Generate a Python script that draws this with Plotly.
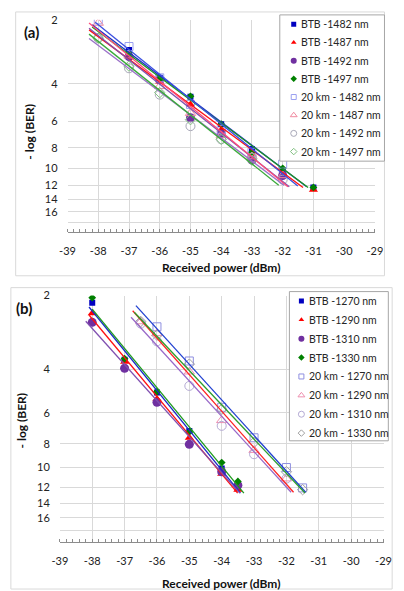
import numpy as np
import plotly.graph_objects as go

W, H = 404, 591

# ---------------- Panel (a) data ----------------
a_names = ["BTB -1482 nm", "BTB -1487 nm", "BTB -1492 nm", "BTB -1497 nm",
           "20 km - 1482 nm", "20 km - 1487 nm", "20 km - 1492 nm", "20 km - 1497 nm"]
a_x = [
    [-37, -36, -35, -34, -33, -32, -31],
    [-37, -36, -35, -34, -33, -32, -31],
    [-37, -36, -35, -34, -33, -32],
    [-37, -36, -35, -34, -33, -32, -31],
    [-38, -37, -36, -35, -34, -33, -32],
    [-38, -37, -36, -35, -34, -33, -32],
    [-38, -37, -36, -35, -34, -33, -32],
    [-38, -37, -36, -35, -34, -33],
]
a_y = [
    [2.77, 3.75, 4.60, 6.20, 8.10, 10.2, 12.3],   # BTB -1482
    [2.98, 3.90, 5.00, 6.60, 8.60, 10.6, 12.6],   # BTB -1487
    [2.98, 3.83, 5.78, 6.90, 9.15, 10.8],         # BTB -1492
    [2.85, 3.80, 4.58, 6.20, 8.40, 10.0, 12.3],   # BTB -1497
    [2.00, 2.67, 3.75, 5.00, 6.55, 8.40, 9.55],   # 20 km - 1482
    [2.07, 2.95, 4.11, 5.50, 7.00, 8.80, 10.8],   # 20 km - 1487
    [2.44, 3.38, 4.50, 6.33, 7.30, 8.90, 11.3],   # 20 km - 1492
    [2.44, 3.30, 4.40, 5.90, 7.30, 9.15],         # 20 km - 1497
]
a_line_start = [-38.2, -38.3, -38.3, -38.2, -38.1, -38.3, -38.3, -38.3]
a_line_end_value = [12.2, 12.3, 12.2, 12.3, 12.1, 12.2, 12.0, 12.0]

# ---------------- Panel (b) data ----------------
b_names = ["BTB -1270 nm", "BTB -1290 nm", "BTB -1310 nm", "BTB -1330 nm",
           "20 km - 1270 nm", "20 km - 1290 nm", "20 km - 1310 nm", "20 km - 1330 nm"]
b_x = [
    [-38, -37, -36, -35, -34, -33.5],
    [-38, -37, -36, -35, -34, -33.5],
    [-38, -37, -36, -35, -34, -33.5],
    [-38, -37, -36, -35, -34, -33.5],
    [-36, -35, -34, -33, -32, -31.5],
    [-36.5, -36, -35, -34, -33, -32],
    [-36.5, -36, -35, -34, -33, -32],
    [-36.5, -36, -35, -34, -33, -32, -31.5],
]
b_y = [
    [2.14, 3.65, 4.95, 7.10, 10.1, 12.1],         # BTB -1270
    [2.36, 3.72, 5.27, 7.57, 10.6, 12.3],         # BTB -1290
    [2.57, 3.95, 5.43, 8.05, 10.4, 11.8],         # BTB -1310
    [2.04, 3.61, 4.92, 7.17, 9.55, 11.4],         # BTB -1330
    [2.68, 3.69, 5.69, 7.57, 10.0, 12.1],         # 20 km - 1270
    [2.55, 2.85, 4.08, 6.43, 8.50, 11.1],         # 20 km - 1290
    [2.60, 3.07, 4.66, 6.77, 8.83, 11.1],         # 20 km - 1310
    [2.55, 2.90, 3.80, 5.80, 7.90, 10.4, 12.3],   # 20 km - 1330
]
b_line_start = [-38.1, -38.1, -38.2, -38.0, -36.65, -36.75, -36.8, -36.7]
b_line_end_value = [12.7, 12.7, 12.7, 12.7, 12.6, 12.6, 12.6, 12.7]

ytick_vals = [2, 4, 6, 8, 10, 12, 14, 16, 18]
ytick_text = ["2", "4", "6", "8", "10", "12", "14", "16", ""]
xtick_vals = list(range(-39, -28))
xtick_text = [str(v) for v in xtick_vals]

# styles: (symbol, size, fill, marker line color, marker line width, trend line color)
styles_a = [
    ("square", 6, "#0000c0", "#0000c0", 0, "#1a2cc8"),
    ("triangle-up", 8, "#ff0000", "#ff0000", 0, "#ff1010"),
    ("circle", 9, "#7030a0", "#7030a0", 0, "#8050b0"),
    ("diamond", 6, "#008000", "#008000", 0, "#1e9a1e"),
    ("square-open", 8, "#9aa0f0", "#9aa0f0", 1, "#3b4fe0"),
    ("triangle-up-open", 9, "#f08aa0", "#f08aa0", 1, "#ff4d7a"),
    ("circle-open", 9, "#a8a8b8", "#a8a8b8", 1, "#9a70c8"),
    ("diamond-open", 8, "#80c080", "#80c080", 1, "#3aaa3a"),
]
styles_b = list(styles_a)
styles_b[4] = ("square-open", 8, "#8f8fe0", "#8f8fe0", 1, "#2040d0")
styles_b[5] = ("triangle-up-open", 9, "#ee90b0", "#ee90b0", 1, "#ff2020")
styles_b[6] = ("circle-open", 9, "#b4aad4", "#b4aad4", 1, "#9868c8")
styles_b[7] = ("diamond-open", 8, "#a0a0a0", "#a0a0a0", 1, "#2e9e2e")

FONT = "Lato"
fig = go.Figure()


def add_panel(xs_list, ys_list, names, starts, end_vals, sty, xa, ya):
    for xs, ys, nm, st in zip(xs_list, ys_list, names, sty):
        sym, size, fill, lc, lw, _ = st
        fig.add_trace(go.Scatter(
            x=xs, y=ys, mode="markers", name=nm, xaxis=xa, yaxis=ya, showlegend=False,
            marker=dict(symbol=sym, size=size, color=fill, line=dict(color=lc, width=lw)),
        ))
    # trend lines: straight fit of log10(value) against received power
    for xs, ys, s0, ev, st in zip(xs_list, ys_list, starts, end_vals, sty):
        k, b = np.polyfit(np.array(xs, float), np.log10(np.array(ys, float)), 1)
        s1 = (np.log10(ev) - b) / k
        lx = np.array([s0, s1])
        ly = 10 ** (k * lx + b)
        fig.add_trace(go.Scatter(
            x=lx, y=ly, mode="lines", showlegend=False, xaxis=xa, yaxis=ya,
            line=dict(color=st[5], width=1.3), hoverinfo="skip",
        ))


add_panel(a_x, a_y, a_names, a_line_start, a_line_end_value, styles_a, "x", "y")
add_panel(b_x, b_y, b_names, b_line_start, b_line_end_value, styles_b, "x2", "y2")


def px_x(p):
    return p / W


def px_y(p):
    return 1 - p / H


# ---------- manual legends (their axes are measured in page pixels) ----------
PAD = 3


def add_legend(names, sty, box, mark_x, text_x, y0, dy, xa, ya, fs):
    x0p, x1p, y0p, y1p = box
    fig.add_trace(go.Scatter(
        x=[x0p, x1p, x1p, x0p, x0p], y=[y0p, y0p, y1p, y1p, y0p], mode="lines",
        fill="toself", fillcolor="white", line=dict(color="#a6a6a6", width=1),
        xaxis=xa, yaxis=ya, showlegend=False, hoverinfo="skip",
    ))
    ys = [y0 + i * dy for i in range(len(names))]
    for nm, st, yy in zip(names, sty, ys):
        sym, size, fill, lc, lw, _ = st
        fig.add_trace(go.Scatter(
            x=[mark_x], y=[yy], mode="markers", xaxis=xa, yaxis=ya, showlegend=False,
            hoverinfo="skip",
            marker=dict(symbol=sym, size=max(size - 3, 5), color=fill, line=dict(color=lc, width=lw)),
        ))
        fig.add_annotation(text=nm, x=text_x, y=yy, xref=xa, yref=ya, showarrow=False,
                           xanchor="left", yanchor="middle",
                           font=dict(family=FONT, size=fs, color="#262626"))


legA = (283, 392, 8, 156)
legB = (293, 396, 288, 439)

xaxis_common = dict(
    range=[-39, -29], tickvals=xtick_vals, ticktext=xtick_text, showgrid=True,
    gridcolor="#d9d9d9", gridwidth=1, zeroline=False, showline=True, linecolor="#8c8c8c",
    linewidth=1, ticks="", tickfont=dict(family=FONT, size=11, color="#222"),
    minor=dict(dtick=0.2, ticks="inside", ticklen=3, tickcolor="#8c8c8c", showgrid=False),
    ticklabelstandoff=9, fixedrange=True,
)
yaxis_common = dict(
    type="log", range=[np.log10(20), np.log10(2)], tickvals=ytick_vals, ticktext=ytick_text,
    showgrid=True, gridcolor="#d9d9d9", gridwidth=1, zeroline=False, showline=False,
    ticks="", tickfont=dict(family=FONT, size=11, color="#222"), ticklabelstandoff=9,
    fixedrange=True,
)
hidden = dict(visible=False, showgrid=False, zeroline=False, fixedrange=True)


def leg_axes(box):
    x0p, x1p, y0p, y1p = box
    xa = dict(domain=[px_x(x0p - PAD), px_x(x1p + PAD)], range=[x0p - PAD, x1p + PAD], **hidden)
    ya = dict(domain=[px_y(y1p + PAD), px_y(y0p - PAD)], range=[y1p + PAD, y0p - PAD], **hidden)
    return xa, ya


lax3, lay3 = leg_axes(legA)
lax4, lay4 = leg_axes(legB)

fig.update_layout(
    width=W, height=H, margin=dict(l=0, r=0, t=0, b=0),
    paper_bgcolor="white", plot_bgcolor="rgba(0,0,0,0)", showlegend=False,
    xaxis=dict(domain=[px_x(62), px_x(382)], anchor="y", **xaxis_common),
    yaxis=dict(domain=[px_y(228), px_y(13)], anchor="x", **yaxis_common),
    xaxis2=dict(domain=[px_x(54), px_x(391)], anchor="y2", **xaxis_common),
    yaxis2=dict(domain=[px_y(541), px_y(292)], anchor="x2", **yaxis_common),
    xaxis3=dict(anchor="y3", **lax3), yaxis3=dict(anchor="x3", **lay3),
    xaxis4=dict(anchor="y4", **lax4), yaxis4=dict(anchor="x4", **lay4),
)

# outer chart-area borders
fig.add_shape(type="rect", xref="paper", yref="paper", x0=px_x(8), x1=px_x(392), y0=px_y(272), y1=px_y(5),
              line=dict(color="#d9d9d9", width=1), layer="below")
fig.add_shape(type="rect", xref="paper", yref="paper", x0=px_x(3), x1=px_x(400), y0=px_y(589), y1=px_y(284),
              line=dict(color="#d9d9d9", width=1), layer="below")

add_legend(a_names, styles_a, legA, 297.5, 303, 17.5, 18.4, "x3", "y3", 10.5)
add_legend(b_names, styles_b, legB, 305.5, 311, 297.5, 19.1, "x4", "y4", 10.5)

ann = [
    dict(text="<b>(a)</b>", x=px_x(24), y=px_y(25), size=15),
    dict(text="<b>(b)</b>", x=px_x(17), y=px_y(305), size=15),
    dict(text="<b>Received power (dBm)</b>", x=px_x(222), y=px_y(264), size=12),
    dict(text="<b>Received power (dBm)</b>", x=px_x(222), y=px_y(583), size=12),
]
for a in ann:
    fig.add_annotation(text=a["text"], x=a["x"], y=a["y"], xref="paper", yref="paper",
                       showarrow=False, xanchor="center", yanchor="middle",
                       font=dict(family=FONT, size=a["size"], color="#111"))
for xx, yy in [(22, 126), (14, 418)]:
    fig.add_annotation(text="<b>- log (BER)</b>", x=px_x(xx), y=px_y(yy), xref="paper", yref="paper",
                       showarrow=False, textangle=-90, xanchor="center", yanchor="middle",
                       font=dict(family=FONT, size=12, color="#111"))

fig.write_html("out.html")
